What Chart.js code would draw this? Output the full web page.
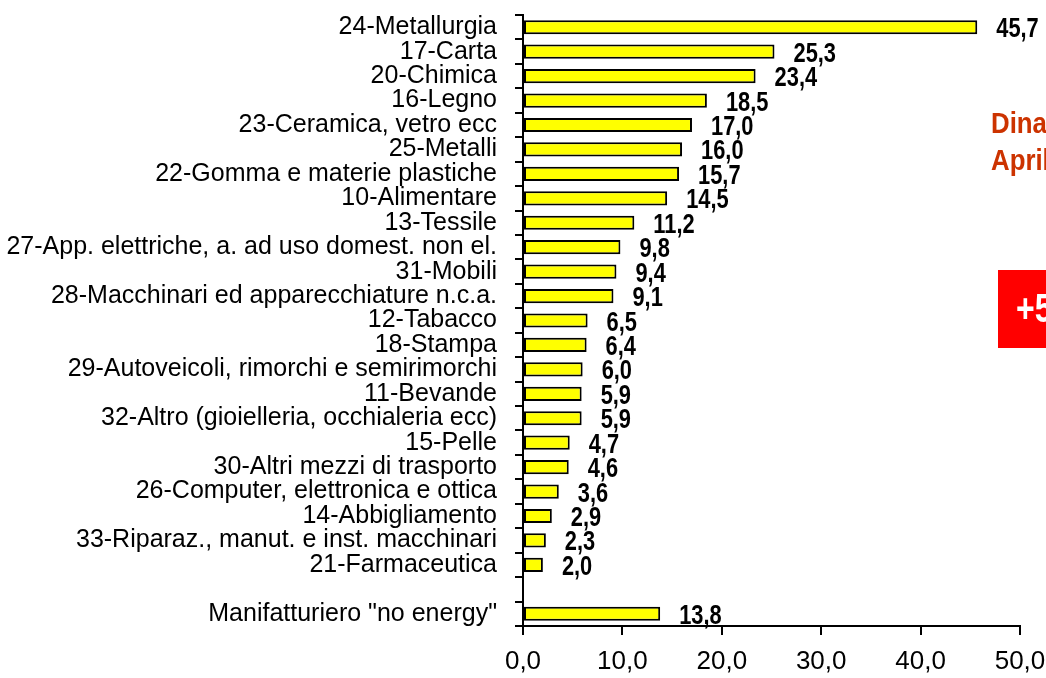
<!DOCTYPE html>
<html>
<head>
<meta charset="utf-8">
<script src="https://cdn.jsdelivr.net/npm/chart.js@4/dist/chart.umd.min.js"></script>
<style>
  html, body { margin: 0; padding: 0; background: #fff; }
  #wrap { width: 1046px; height: 678px; position: relative; }
</style>
</head>
<body>
<div id="wrap"><canvas id="chart"></canvas></div>
<script>
const sectors = [
    '24-Metallurgia', '17-Carta', '20-Chimica', '16-Legno', '23-Ceramica, vetro ecc',
    '25-Metalli', '22-Gomma e materie plastiche', '10-Alimentare', '13-Tessile',
    '27-App. elettriche, a. ad uso domest. non el.', '31-Mobili',
    '28-Macchinari ed apparecchiature n.c.a.', '12-Tabacco', '18-Stampa',
    '29-Autoveicoli, rimorchi e semirimorchi', '11-Bevande',
    '32-Altro (gioielleria, occhialeria ecc)', '15-Pelle', '30-Altri mezzi di trasporto',
    '26-Computer, elettronica e ottica', '14-Abbigliamento',
    '33-Riparaz., manut. e inst. macchinari', '21-Farmaceutica',
    '', 'Manifatturiero "no energy"'
];
const values = [
    45.7, 25.3, 23.4, 18.5, 17.0, 16.0, 15.7, 14.5, 11.2, 9.8, 9.4, 9.1,
    6.5, 6.4, 6.0, 5.9, 5.9, 4.7, 4.6, 3.6, 2.9, 2.3, 2.0, null, 13.8
];
const xTicks = [0, 10, 20, 30, 40, 50];

const fmt = v => v.toFixed(1).replace('.', ',');
const FONT = "'Liberation Sans', Arial, sans-serif";

// draw text squeezed horizontally, like the narrow font of the original
function narrowText(ctx, txt, x, y, sx) {
    ctx.save();
    ctx.translate(x, y);
    ctx.scale(sx, 1);
    ctx.fillText(txt, 0, 0);
    ctx.restore();
}

// value labels next to bars + the cut-off annotations on the right
const extras = {
    id: 'extras',
    afterDatasetsDraw(chart) {
        const ctx = chart.ctx;
        const meta = chart.getDatasetMeta(0);
        ctx.save();
        ctx.font = "bold 28px " + FONT;
        ctx.fillStyle = '#000';
        ctx.textBaseline = 'alphabetic';
        ctx.textAlign = 'left';
        meta.data.forEach((bar, i) => {
            if (values[i] == null) return;
            narrowText(ctx, fmt(values[i]), bar.x + 19, bar.y + 10, 0.78);
        });

        ctx.font = "bold 30px " + FONT;
        ctx.fillStyle = '#CC3300';
        narrowText(ctx, 'Dinamica', 991, 133, 0.86);
        narrowText(ctx, 'Aprile', 991, 170, 0.86);

        ctx.fillStyle = '#FF0000';
        ctx.fillRect(998, 270, 60, 78);
        ctx.fillStyle = '#fff';
        ctx.font = "bold 40px " + FONT;
        narrowText(ctx, '+5', 1016, 322, 0.8);
        ctx.restore();
    }
};

new Chart(document.getElementById('chart'), {
    type: 'bar',
    data: {
        labels: sectors,
        datasets: [{
            data: values,
            backgroundColor: '#FFFF00',
            borderColor: '#000',
            borderWidth: 2,
            borderSkipped: false,
            categoryPercentage: 1,
            barPercentage: 0.58
        }]
    },
    options: {
        indexAxis: 'y',
        responsive: true,
        maintainAspectRatio: false,
        animation: false,
        layout: {
            padding: { top: 15, right: 26, bottom: 0, left: 0 }
        },
        plugins: {
            legend: { display: false },
            tooltip: { enabled: false }
        },
        scales: {
            x: {
                min: 0,
                max: 50,
                afterBuildTicks: s => { s.ticks = xTicks.map(v => ({ value: v })); },
                afterFit: s => {
                    s.height = 52;
                    s.paddingLeft = 0;
                    s.paddingRight = 0;
                },
                grid: {
                    drawOnChartArea: false,
                    color: '#000',
                    lineWidth: 2,
                    tickLength: 9
                },
                border: { color: '#000', width: 2 },
                ticks: {
                    color: '#000',
                    font: { family: FONT, size: 26 },
                    padding: 11,
                    callback: v => fmt(v)
                }
            },
            y: {
                afterFit: s => {
                    s.width = 523;
                    s.paddingTop = 0;
                    s.paddingBottom = 0;
                },
                grid: {
                    offset: true,
                    drawOnChartArea: false,
                    color: '#000',
                    lineWidth: 2,
                    tickLength: 8
                },
                border: { color: '#000', width: 2 },
                ticks: {
                    color: '#000',
                    autoSkip: false,
                    font: { family: FONT, size: 25 },
                    padding: 18
                }
            }
        }
    },
    plugins: [extras]
});
</script>
</body>
</html>
